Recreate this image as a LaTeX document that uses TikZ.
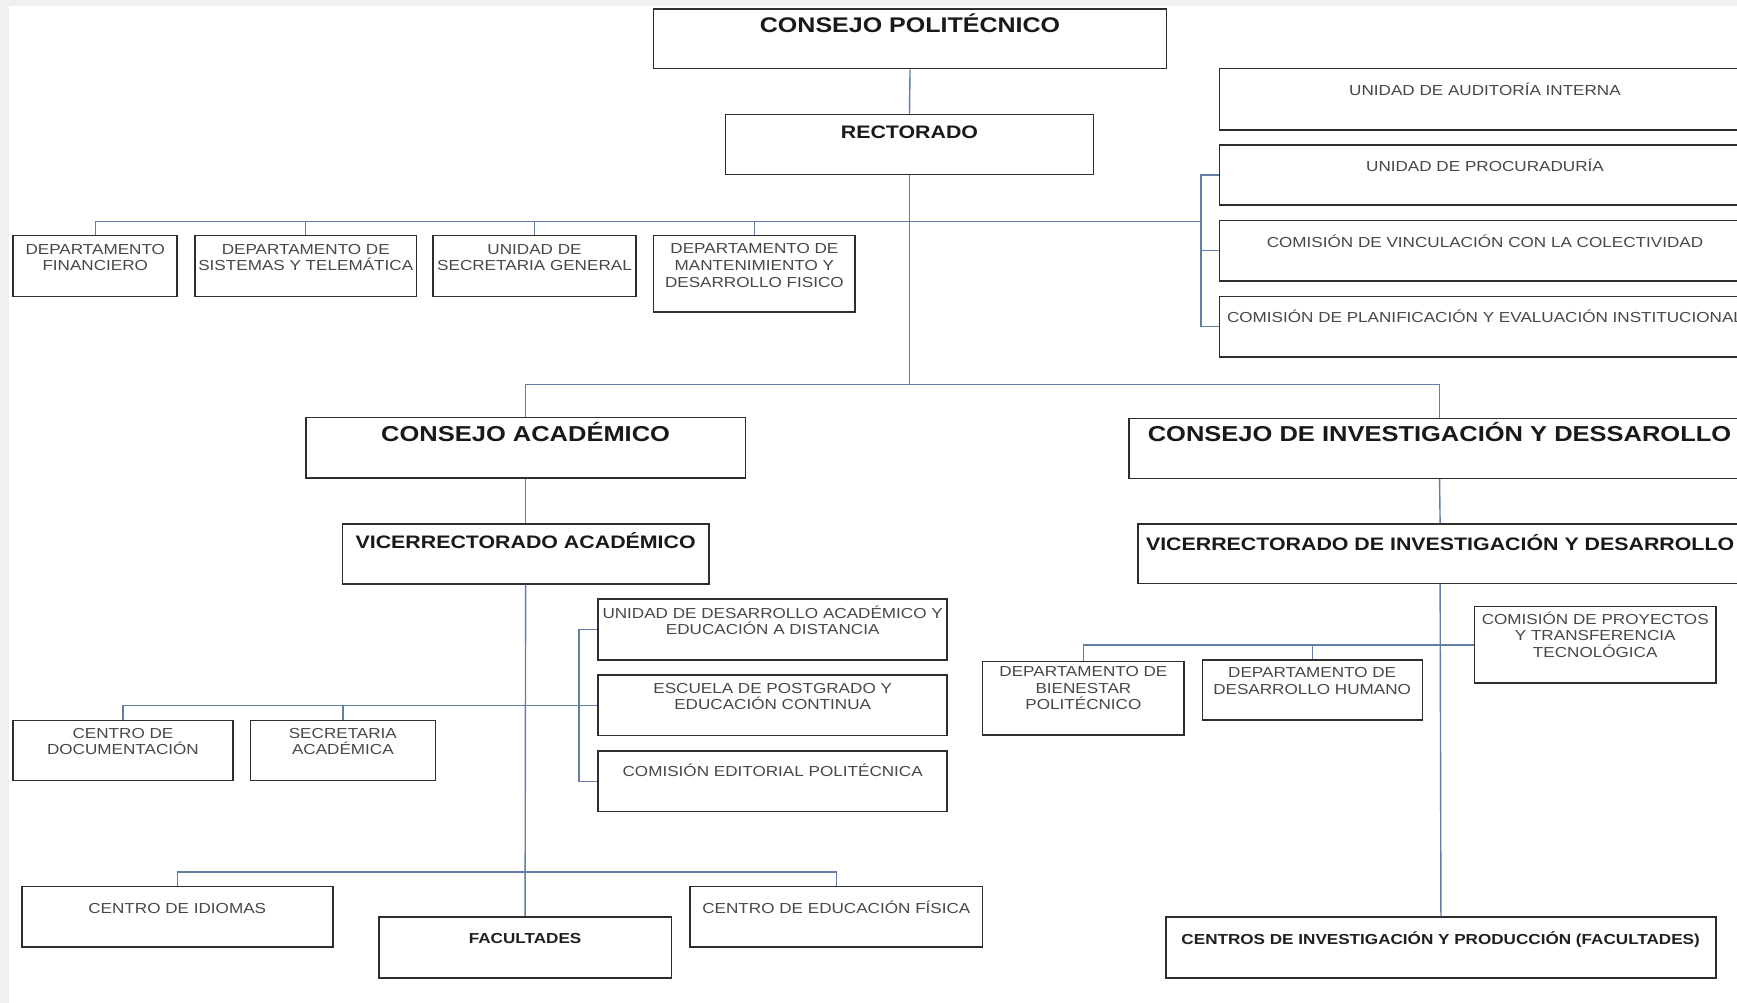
\documentclass[tikz,border=0pt]{standalone}
\usepackage{fontspec}
\setmainfont{Liberation Sans}[FakeStretch=1.18]
\usetikzlibrary{fit}

\definecolor{linkblue}{RGB}{98,126,164}
\definecolor{edgegray}{RGB}{240,240,240}

\tikzset{
  x=1.1078pt, y=-1.1078pt,
  unitbox/.style={draw=black!82, line width=1.6pt, fill=white, inner sep=0pt},
  link/.style={draw=linkblue, line width=1.4pt},
  smalltxt/.style={inner sep=0pt, align=center, anchor=base, text=black!72,
    font=\fontsize{14.5}{16.6}\selectfont},
  minortxt/.style={inner sep=0pt, align=center, anchor=base, text=black!88,
    font=\bfseries\fontsize{14.5}{16.6}\selectfont},
  midtxt/.style={inner sep=0pt, align=center, anchor=base, text=black!90,
    font=\bfseries\fontsize{18.1}{21}\selectfont},
  headtxt/.style={inner sep=0pt, align=center, anchor=base, text=black!90,
    font=\bfseries\fontsize{21.6}{24}\selectfont},
}

\begin{document}
\begin{tikzpicture}
\useasboundingbox (0,0) rectangle (1568,905);
\clip (0,0) rectangle (1568,905);
\fill[white] (0,0) rectangle (1568,905);
\fill[edgegray] (0,0) rectangle (8.5,905);
\fill[edgegray] (0,0) rectangle (1568,5.4);

% Multi-line labels are placed by the baseline of their last line.

% ---- governing bodies
\node[unitbox, fit={(590,8) (1053,62)}] (cp) {};
\node[headtxt, font=\bfseries\fontsize{21.2}{24}\selectfont] (tcp) at (821.5,29.2) {CONSEJO POLITÉCNICO};
\node[unitbox, fit={(655,103.5) (987,157.5)}] (rect) {};
\node[midtxt] (trect) at (821,125) {RECTORADO};

% ---- departments under the rector
\node[unitbox, fit={(12,212.5) (160,267.5)}] (fin) {};
\node[smalltxt] (tfin) at (86,244.3) {DEPARTAMENTO\\FINANCIERO};
\node[unitbox, fit={(176,212.5) (376,267.5)}] (sis) {};
\node[smalltxt] (tsis) at (276,244.3) {DEPARTAMENTO DE\\SISTEMAS Y TELEMÁTICA};
\node[unitbox, fit={(391,212.5) (574,267.5)}] (sec) {};
\node[smalltxt] (tsec) at (482.5,244.3) {UNIDAD DE\\SECRETARIA GENERAL};
\node[unitbox, fit={(590,212.5) (772,281.5)}] (mant) {};
\node[smalltxt, font=\fontsize{14.5}{16.9}\selectfont] (tmant) at (681,259.3) {DEPARTAMENTO DE\\MANTENIMIENTO Y\\DESARROLLO FISICO};

% ---- staff units on the right
\node[unitbox, fit={(1101,61.7) (1580,117.4)}] (aud) {};
\node[smalltxt] (taud) at (1340.5,85.8) {UNIDAD DE AUDITORÍA INTERNA};
\node[unitbox, fit={(1101,130.9) (1580,185)}] (proc) {};
\node[smalltxt] (tproc) at (1340.5,154.4) {UNIDAD DE PROCURADURÍA};
\node[unitbox, fit={(1101,199.2) (1580,253.4)}] (vinc) {};
\node[smalltxt] (tvinc) at (1340.5,223.3) {COMISIÓN DE VINCULACIÓN CON LA COLECTIVIDAD};
\node[unitbox, fit={(1101,267.8) (1580,322)}] (plan) {};
\node[smalltxt] (tplan) at (1340.5,291.3) {COMISIÓN DE PLANIFICACIÓN Y EVALUACIÓN INSTITUCIONAL};

% ---- academic branch
\node[unitbox, fit={(276,377) (673,431.5)}] (cacad) {};
\node[headtxt] (tcacad) at (474.5,398.7) {CONSEJO ACADÉMICO};
\node[unitbox, fit={(309,473) (640,527)}] (vacad) {};
\node[midtxt] (tvacad) at (474.5,495.5) {VICERRECTORADO ACADÉMICO};

\node[unitbox, fit={(540,540.7) (855,595.8)}] (udes) {};
\node[smalltxt, font=\fontsize{14.5}{16}\selectfont] (tudes) at (697.5,572.6) {UNIDAD DE DESARROLLO ACADÉMICO Y\\EDUCACIÓN A DISTANCIA};
\node[unitbox, fit={(540,609.3) (855,664)}] (esc) {};
\node[smalltxt] (tesc) at (697.5,640.9) {ESCUELA DE POSTGRADO Y\\EDUCACIÓN CONTINUA};
\node[unitbox, fit={(540,677.9) (855,732.7)}] (comed) {};
\node[smalltxt] (tcomed) at (697.5,701.1) {COMISIÓN EDITORIAL POLITÉCNICA};

\node[unitbox, fit={(11.5,650.5) (210.5,704.7)}] (docu) {};
\node[smalltxt] (tdocu) at (111,681.5) {CENTRO DE\\DOCUMENTACIÓN};
\node[unitbox, fit={(226,650.5) (393,704.7)}] (secr) {};
\node[smalltxt] (tsecr) at (309.5,681.5) {SECRETARIA\\ACADÉMICA};

\node[unitbox, fit={(20,800.4) (300.5,855)}] (idi) {};
\node[smalltxt] (tidi) at (160,824.5) {CENTRO DE IDIOMAS};
\node[unitbox, fit={(342,828) (606,883)}] (fac) {};
\node[minortxt] (tfac) at (474,851.5) {FACULTADES};
\node[unitbox, fit={(623,800.4) (887,855)}] (edf) {};
\node[smalltxt] (tedf) at (755,824.5) {CENTRO DE EDUCACIÓN FÍSICA};

% ---- research branch
\node[unitbox, fit={(1019,377.6) (1580,431.8)}] (cinv) {};
\node[headtxt] (tcinv) at (1299.5,398.7) {CONSEJO DE INVESTIGACIÓN Y DESSAROLLO};
\node[unitbox, fit={(1027,473) (1573,526.6)}] (vinv) {};
\node[midtxt] (tvinv) at (1300,496.5) {VICERRECTORADO DE INVESTIGACIÓN Y DESARROLLO};

\node[unitbox, fit={(887,597.3) (1069,663.5)}] (bien) {};
\node[smalltxt] (tbien) at (978,640.9) {DEPARTAMENTO DE\\BIENESTAR\\POLITÉCNICO};
\node[unitbox, fit={(1085.5,595.8) (1284,650)}] (dh) {};
\node[smalltxt] (tdh) at (1184.5,626.5) {DEPARTAMENTO DE\\DESARROLLO HUMANO};
\node[unitbox, fit={(1331,547.6) (1549,616.6)}] (comp) {};
\node[smalltxt] (tcomp) at (1440,593.3) {COMISIÓN DE PROYECTOS\\Y TRANSFERENCIA\\TECNOLÓGICA};

\node[unitbox, fit={(1052.5,828) (1549,883)}] (cent) {};
\node[minortxt] (tcent) at (1300.5,853) {CENTROS DE INVESTIGACIÓN Y PRODUCCIÓN (FACULTADES)};

% ---- junctions of the connector buses
\coordinate (busA) at (1084,200.1);
\coordinate (busB) at (821,347);
\coordinate (brkB) at (522.7,636.5);
\coordinate (busC) at (474,787);

% ---- connectors
\draw[link] (cp.south) -- (rect.north);
\draw[link] (rect.south) -- (busB);
\draw[link] (fin.north) |- (busA);
\draw[link] (sis.north) -- (sis.north |- busA);
\draw[link] (sec.north) -- (sec.north |- busA);
\draw[link] (mant.north) -- (mant.north |- busA);
\draw[link] (proc.west) -- (proc.west -| busA) -- (plan.west -| busA) -- (plan.west);
\draw[link] (vinc.west) -- (vinc.west -| busA);

\draw[link] (cacad.north) |- (busB) -| (cinv.north);
\draw[link] (cacad.south) -- (vacad.north);
\draw[link] (vacad.south) -- (fac.north);
\draw[link] (udes.west) -- (udes.west -| brkB) -- (comed.west -| brkB) -- (comed.west);
\draw[link] (docu.north) |- (esc.west);
\draw[link] (secr.north) -- (secr.north |- esc.west);
\draw[link] (idi.north) |- (busC) -| (edf.north);

\draw[link] (cinv.south) -- (vinv.north);
\draw[link] (vinv.south) -- (cent.north);
\draw[link] (bien.north) |- (comp.west);
\draw[link] (dh.north) -- (dh.north |- comp.west);
\end{tikzpicture}
\end{document}
